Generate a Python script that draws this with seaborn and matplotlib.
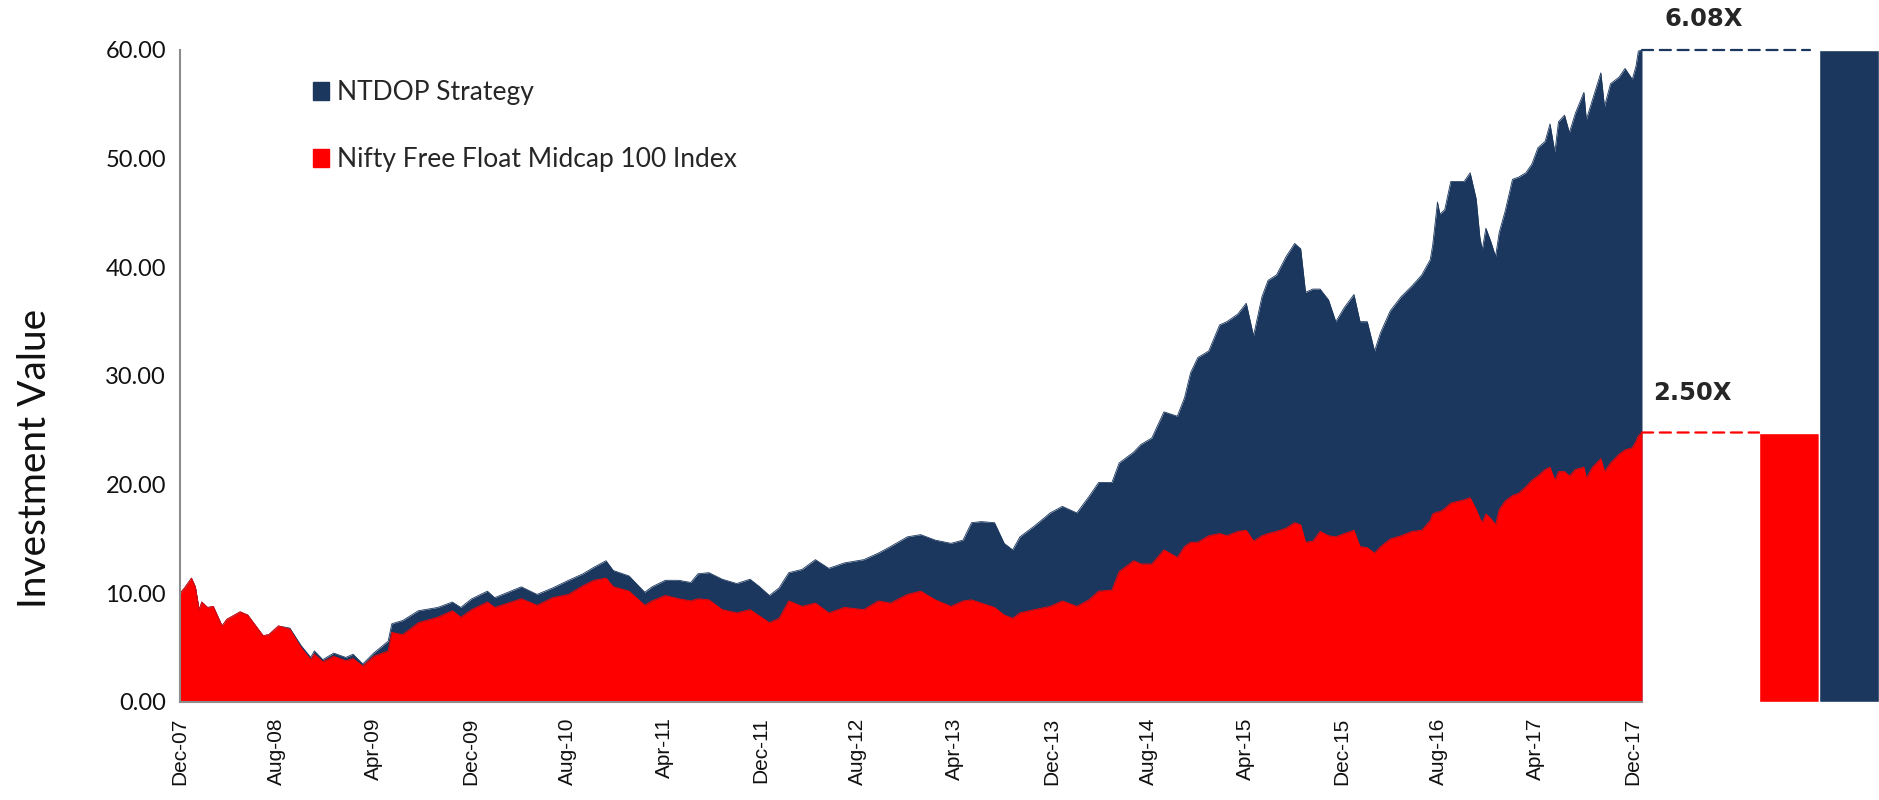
import matplotlib
matplotlib.use("Agg")
import matplotlib.pyplot as plt
from matplotlib.patches import Patch, ConnectionPatch
import seaborn as sns

# months elapsed since Dec-07
months = [0.0, 0.38, 0.95, 1.27, 1.58, 1.8, 2.28, 2.75, 3.48, 3.86, 4.97, 5.6, 6.87, 7.34,
          8.13, 9.08, 10.0, 10.8, 11.1, 11.8, 12.7, 13.7, 14.3, 15.1, 16.0, 17.2, 17.5,
          18.4, 19.7, 21.3, 22.5, 23.2, 24.1, 25.4, 26.0, 28.2, 29.5, 30.8, 32.1, 33.3,
          34.2, 35.2, 35.8, 37.1, 38.4, 39.0, 40.1, 41.2, 42.2, 42.8, 43.7, 44.8, 46.0,
          47.1, 47.9, 48.7, 49.5, 50.3, 51.4, 52.5, 53.6, 54.9, 56.5, 57.7, 58.7, 60.1,
          61.2, 62.4, 63.7, 64.7, 65.4, 66.2, 67.3, 68.1, 68.8, 69.4, 70.6, 71.9, 72.9,
          74.1, 75.1, 75.9, 77.0, 77.6, 78.8, 79.4, 80.3, 81.3, 82.4, 83.0, 83.5, 84.1,
          85.0, 85.9, 86.5, 87.4, 88.1, 88.7, 89.4, 89.9, 90.6, 91.4, 92.1, 92.6, 93.0,
          93.6, 94.2, 94.9, 95.5, 96.2, 97.0, 97.5, 98.1, 98.7, 99.2, 100.0, 100.9,
          101.8, 102.6, 103.3, 103.5, 103.9, 104.1, 104.5, 105.0, 105.7, 106.1, 106.6,
          107.1, 107.4, 107.6, 107.9, 108.3, 108.7, 109.0, 109.5, 110.1, 110.6, 111.2,
          111.7, 112.2, 112.8, 113.2, 113.6, 113.9, 114.4, 114.8, 115.3, 116.0, 116.2,
          116.7, 117.4, 117.7, 118.2, 118.9, 119.4, 120.0, 120.3, 120.5, 120.8]

ntdop = [10.0, 10.5, 11.4, 10.6, 8.5, 9.2, 8.7, 8.8, 7.0, 7.6, 8.3, 8.0, 6.1, 6.2,
         7.0, 6.8, 5.2, 4.1, 4.7, 3.9, 4.5, 4.1, 4.4, 3.5, 4.5, 5.6, 7.2,
         7.5, 8.4, 8.7, 9.2, 8.7, 9.5, 10.2, 9.6, 10.6, 9.9, 10.5, 11.2, 11.8,
         12.4, 13.0, 12.1, 11.6, 10.1, 10.6, 11.2, 11.2, 11.0, 11.8, 11.9, 11.3, 10.9,
         11.3, 10.6, 9.8, 10.5, 11.9, 12.2, 13.1, 12.3, 12.8, 13.1, 13.7, 14.3, 15.2,
         15.4, 14.9, 14.6, 14.9, 16.5, 16.6, 16.5, 14.6, 14.0, 15.2, 16.2, 17.4, 18.0,
         17.4, 18.9, 20.2, 20.2, 22.0, 23.0, 23.7, 24.3, 26.7, 26.3, 28.0, 30.3, 31.7,
         32.3, 34.7, 35.0, 35.7, 36.7, 33.7, 37.3, 38.8, 39.3, 41.0, 42.2, 41.7, 37.7,
         38.0, 38.0, 37.0, 35.0, 36.3, 37.5, 35.0, 35.0, 32.3, 34.0, 36.0, 37.3,
         38.3, 39.3, 40.7, 42.0, 46.0, 44.9, 45.3, 47.9, 47.9, 47.9, 48.7,
         46.3, 42.8, 41.6, 43.6, 42.4, 41.0, 43.2, 45.2, 48.1, 48.3, 48.7,
         49.5, 51.0, 51.6, 53.2, 50.6, 53.4, 54.0, 52.4, 54.2, 56.1, 53.6,
         55.4, 57.9, 54.8, 56.9, 57.5, 58.3, 57.3, 58.5, 59.9, 60.0]

midcap = [10.0, 10.5, 11.4, 10.6, 8.5, 9.2, 8.7, 8.8, 7.0, 7.6, 8.3, 8.0, 6.1, 6.2,
          7.0, 6.7, 5.0, 3.9, 4.4, 3.7, 4.2, 3.8, 4.0, 3.3, 4.2, 4.7, 6.4,
          6.2, 7.3, 7.8, 8.4, 7.8, 8.5, 9.2, 8.7, 9.5, 8.9, 9.6, 9.9, 10.7,
          11.2, 11.4, 10.6, 10.2, 8.9, 9.3, 9.8, 9.5, 9.3, 9.5, 9.4, 8.5, 8.2,
          8.5, 7.9, 7.3, 7.7, 9.3, 8.8, 9.1, 8.2, 8.7, 8.5, 9.3, 9.1, 9.9,
          10.2, 9.4, 8.8, 9.3, 9.4, 9.1, 8.7, 8.0, 7.7, 8.2, 8.5, 8.8, 9.3,
          8.8, 9.4, 10.2, 10.3, 12.0, 13.0, 12.7, 12.7, 14.0, 13.3, 14.3, 14.7, 14.7,
          15.3, 15.5, 15.3, 15.7, 15.8, 14.8, 15.3, 15.5, 15.7, 16.0, 16.5, 16.3, 14.7,
          14.8, 15.7, 15.3, 15.2, 15.5, 15.8, 14.3, 14.2, 13.7, 14.3, 15.0, 15.3,
          15.7, 15.8, 16.7, 17.3, 17.5, 17.5, 17.8, 18.3, 18.5, 18.6, 18.8,
          17.7, 16.9, 16.5, 17.3, 16.9, 16.3, 17.7, 18.5, 19.0, 19.2, 19.8,
          20.4, 20.8, 21.4, 21.6, 20.4, 21.2, 21.2, 20.8, 21.4, 21.6, 20.6,
          21.6, 22.4, 21.2, 22.0, 22.8, 23.2, 23.4, 24.0, 24.5, 24.8]

tick_labels = ["Dec-07", "Aug-08", "Apr-09", "Dec-09", "Aug-10", "Apr-11", "Dec-11", "Aug-12",
               "Apr-13", "Dec-13", "Aug-14", "Apr-15", "Dec-15", "Aug-16", "Apr-17", "Dec-17"]
series_names = ["NTDOP Strategy", "Nifty Free Float Midcap 100 Index"]
bar_names = ["Nifty", "NTDOP"]
multiples = ["2.50X", "6.08X"]

NAVY = "#1B375E"
RED = "#FF0000"
GREY = "#8C8C8C"

sns.set_style("white")
plt.rcParams["font.family"] = ["Lato", "DejaVu Sans"]

fig = plt.figure(figsize=(18.79, 8.0), dpi=100)
ax = fig.add_axes([180 / 1879, 1 - 702 / 800, (1642 - 180) / 1879, 652 / 800])
ax2 = fig.add_axes([1759 / 1879, 1 - 702 / 800, 120 / 1879, 652 / 800], sharey=ax)

# area chart: strategy behind, index in front
sns.lineplot(x=months, y=ntdop, color=NAVY, lw=0.6, ax=ax)
ax.fill_between(months, 0, ntdop, color=NAVY, lw=0)
sns.lineplot(x=months, y=midcap, color=RED, lw=0.6, ax=ax)
ax.fill_between(months, 0, midcap, color=RED, lw=0)

ax.set_xlim(0, months[-1])
ax.set_ylim(0, 60)
ax.set_yticks(range(0, 61, 10))
ax.set_yticklabels([f"{v:.2f}" for v in range(0, 61, 10)], fontsize=17, color="#111111")
ax.set_xticks(range(0, 8 * len(tick_labels), 8))
ax.set_xticklabels(tick_labels, rotation=90, fontsize=15, family="Liberation Sans",
                   color="#111111")
ax.tick_params(axis="both", direction="out", length=6, width=1.2, color=GREY, pad=4)
ax.tick_params(axis="x", pad=5)
for side in ["top", "right"]:
    ax.spines[side].set_visible(False)
for side in ["left", "bottom"]:
    ax.spines[side].set_color(GREY)
    ax.spines[side].set_linewidth(1.5)
ax.set_ylabel("Investment Value", fontsize=28, color="#111111")
ax.yaxis.set_label_coords(-0.087, 0.374)

handles = [Patch(color=NAVY), Patch(color=RED)]
ax.legend(handles, series_names, loc="upper left", bbox_to_anchor=(0.075, 0.99),
          frameon=False, fontsize=19, handlelength=0.6, handleheight=0.7,
          handletextpad=0.3, labelspacing=1.6)

# final value bars on the right
finals = [midcap[-1], ntdop[-1]]
sns.barplot(x=bar_names, y=finals, hue=bar_names, palette=[RED, NAVY], width=1.0,
            legend=False, ax=ax2, saturation=1)
ax2.set_xlim(-0.5, 1.5)
ax2.axis("off")

for val, color, x_end in [(midcap[-1], RED, -0.5), (ntdop[-1], NAVY, 0.35)]:
    con = ConnectionPatch(xyA=(months[-1], val), coordsA=ax.transData,
                          xyB=(x_end, val), coordsB=ax2.transData,
                          color=color, lw=1.6, linestyle=(0, (5, 3)))
    fig.add_artist(con)

fig.text(1692 / 1879, 1 - 393 / 800, multiples[0], fontsize=17.5, fontweight="bold",
         family="DejaVu Sans", ha="center", va="center")
fig.text(1704 / 1879, 1 - 19 / 800, multiples[1], fontsize=17.5, fontweight="bold",
         family="DejaVu Sans", ha="center", va="center")

fig.savefig("out.png", dpi=100)
